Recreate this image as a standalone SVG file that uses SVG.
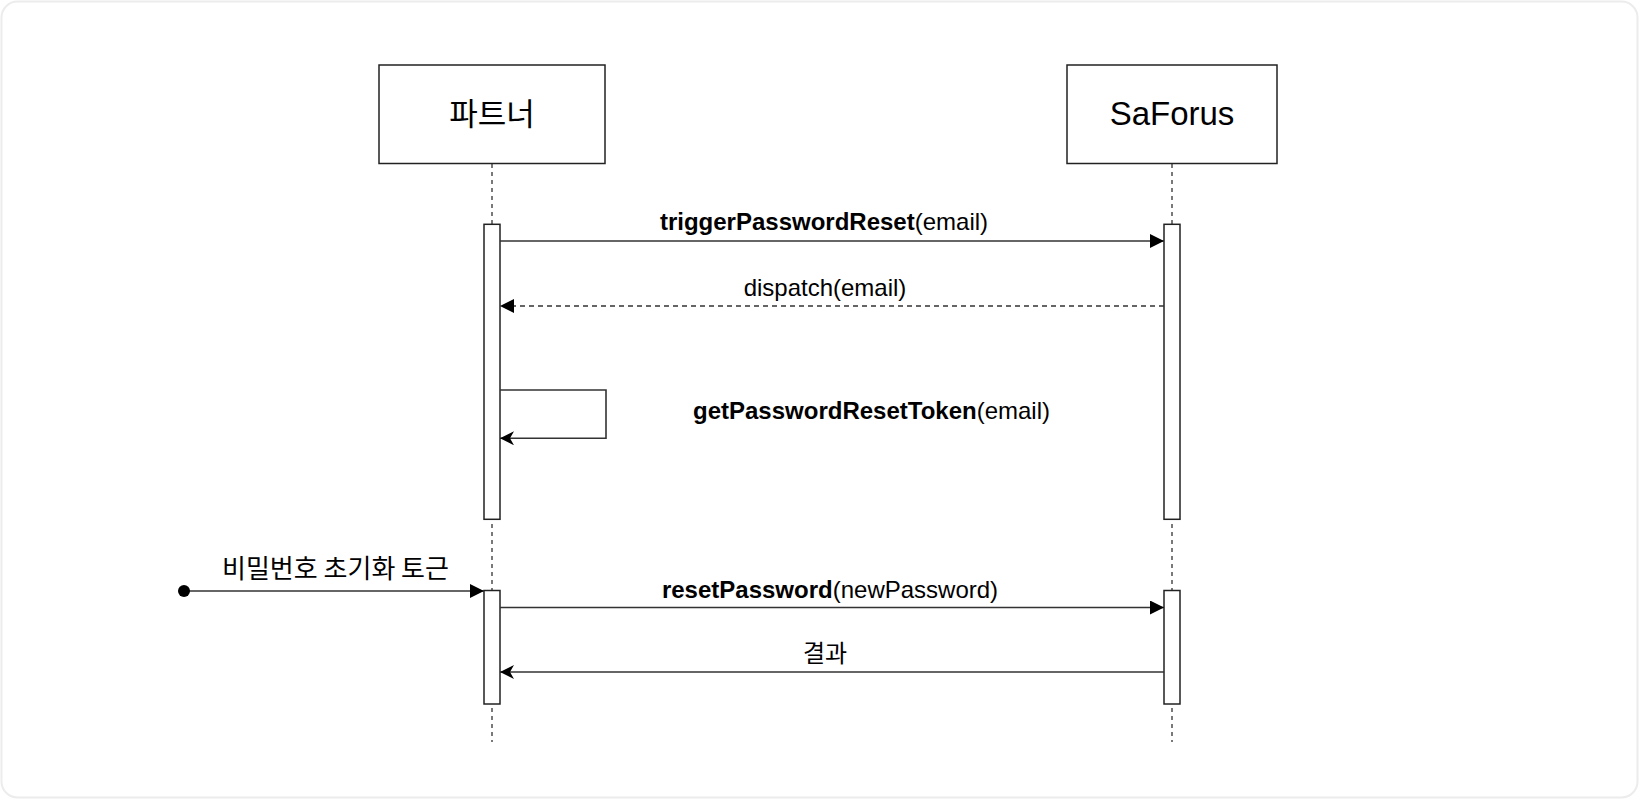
<svg xmlns="http://www.w3.org/2000/svg" width="1640" height="800" viewBox="0 0 1640 800">
  <style>
    .frame { fill: #ffffff; stroke: #ececec; stroke-width: 2; }
    .actor { fill: #ffffff; stroke: #222222; stroke-width: 1.5; }
    .life { fill: none; stroke: #333333; stroke-width: 1.3; stroke-dasharray: 4 4; }
    .bar { fill: #ffffff; stroke: #222222; stroke-width: 1.5; }
    .msg { fill: none; stroke: #333333; stroke-width: 1.6; }
    .dash { stroke-dasharray: 5 4; }
    .lbl { font-family: "Liberation Sans", Arial, "Noto Sans CJK KR", sans-serif; font-size: 24px; fill: #000000; text-anchor: middle; }
    .kr { font-family: "Noto Sans CJK KR", "Liberation Sans", sans-serif; font-size: 24px; fill: #000000; text-anchor: middle; }
    .title { font-size: 33px; }
    .krtitle { font-size: 31px; }
    .big { font-size: 26px; }
    .b { font-weight: bold; }
  </style>
  <defs>
    <marker id="block" viewBox="0 0 14 14" refX="14" refY="7" markerWidth="14" markerHeight="14" markerUnits="userSpaceOnUse" orient="auto">
      <path d="M0,0 L14,7 L0,14 Z" fill="#000000"/>
    </marker>
    <marker id="classic" viewBox="0 0 14 14" refX="14" refY="7" markerWidth="14" markerHeight="14" markerUnits="userSpaceOnUse" orient="auto">
      <path d="M0,0 L14,7 L0,14 L4,7 Z" fill="#000000"/>
    </marker>
    <marker id="dot" viewBox="0 0 14 14" refX="7" refY="7" markerWidth="14" markerHeight="14" markerUnits="userSpaceOnUse" orient="auto">
      <circle cx="7" cy="7" r="6" fill="#000000"/>
    </marker>
  </defs>

  <rect class="frame" x="1.5" y="1.5" width="1636" height="796" rx="16" ry="16"/>

  <g id="partner">
    <line class="life" x1="492" y1="164" x2="492" y2="742"/>
    <rect class="actor" x="379" y="65" width="226" height="98.5"/>
    <text class="kr krtitle" x="492" y="125">파트너</text>
    <rect class="bar" x="484" y="224.3" width="16" height="295"/>
    <rect class="bar" x="484" y="590.5" width="16" height="113.5"/>
  </g>

  <g id="saforus">
    <line class="life" x1="1172" y1="164" x2="1172" y2="742"/>
    <rect class="actor" x="1067" y="65" width="210" height="98.5"/>
    <text class="lbl title" x="1172" y="125">SaForus</text>
    <rect class="bar" x="1164" y="224.3" width="16" height="295"/>
    <rect class="bar" x="1164" y="590.5" width="16" height="113.5"/>
  </g>

  <g id="connectors">
    <line class="msg" x1="500" y1="241" x2="1164" y2="241" marker-end="url(#block)"/>
    <line class="msg dash" x1="1164" y1="306" x2="500" y2="306" marker-end="url(#block)"/>
    <polyline class="msg" points="500,390 606,390 606,438.3 500,438.3" marker-end="url(#classic)"/>
    <line class="msg" x1="184" y1="591" x2="484" y2="591" marker-start="url(#dot)" marker-end="url(#block)"/>
    <line class="msg" x1="500" y1="607.5" x2="1164" y2="607.5" marker-end="url(#block)"/>
    <line class="msg" x1="1164" y1="672" x2="500" y2="672" marker-end="url(#classic)"/>
  </g>

  <g id="labels">
    <text class="lbl" x="824" y="230"><tspan class="b">triggerPasswordReset</tspan>(email)</text>
    <text class="lbl" x="825" y="295.5">dispatch(email)</text>
    <text class="lbl" x="871.5" y="419"><tspan class="b">getPasswordResetToken</tspan>(email)</text>
    <text class="kr big" x="335.5" y="578">비밀번호 초기화 토근</text>
    <text class="lbl" x="830" y="598"><tspan class="b">resetPassword</tspan>(newPassword)</text>
    <text class="kr" x="825" y="662">결과</text>
  </g>
</svg>
